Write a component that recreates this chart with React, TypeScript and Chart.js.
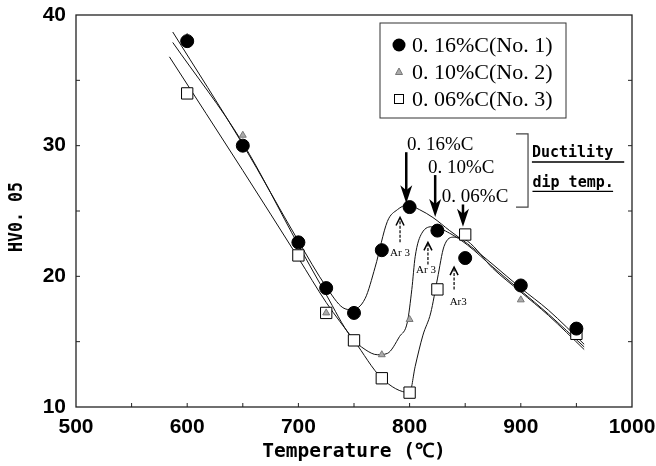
import React, { useEffect, useRef } from "react";
import { Chart, registerables } from "chart.js";
Chart.register(...registerables);

// ---- axis ticks ----
const xTickValues = [500, 600, 700, 800, 900, 1000];
const yTickValues = [10, 20, 30, 40];

// ---- measured points ----
const temps016 = [600, 650, 700, 725, 750, 775, 800, 825, 850, 900, 950];
const hv016 = [38.0, 30.0, 22.6, 19.1, 17.2, 22.0, 25.3, 23.5, 21.4, 19.3, 16.0];
const temps010 = [600, 650, 725, 775, 800, 900];
const hv010 = [38.3, 30.8, 17.2, 14.0, 16.7, 18.2];
const temps006 = [600, 700, 725, 750, 775, 800, 825, 850, 950];
const hv006 = [34.0, 21.6, 17.2, 15.1, 12.2, 11.1, 19.0, 23.2, 15.6];

// ---- fitted curves ----
const fitT016 = [587, 650, 700, 725, 740, 748, 760, 769, 780, 789, 798, 809, 821, 836, 852, 875, 900, 925, 957];
const fitHV016 = [38.7, 30.1, 22.7, 19.2, 17.6, 17.45, 18.3, 20.7, 24.2, 25.1, 25.45, 25.1, 24.5, 23.5, 22.5, 20.9, 19.1, 17.4, 14.8];
const fitT010 = [587, 650, 700, 725, 747, 760, 771, 780, 791, 798, 802, 805, 811, 821, 836, 852, 875, 900, 925, 957];
const fitHV010 = [37.9, 30.2, 22.4, 18.6, 15.4, 14.4, 14.0, 14.1, 15.4, 16.5, 19.0, 21.5, 23.3, 23.8, 23.3, 22.4, 20.7, 18.9, 17.1, 14.6];
const fitT006 = [584, 650, 700, 725, 750, 775, 800, 805, 812, 819, 825, 831, 840, 852, 875, 900, 925, 957];
const fitHV006 = [36.8, 28.1, 21.4, 18.0, 15.1, 12.2, 11.1, 13.1, 15.5, 17.2, 19.8, 22.3, 23.0, 22.7, 20.6, 18.8, 17.0, 14.4];

// ---- legend labels ----
const legendLabels = ["0. 16%C(No. 1)", "0. 10%C(No. 2)", "0. 06%C(No. 3)"];

// ---- ductility dip temperatures (big arrows) ----
const dipLabels = ["0. 16%C", "0. 10%C", "0. 06%C"];
const dipTemps = [797, 823, 848];
const dipArrowTop = [29.5, 27.75, 25.5];
const dipArrowTip = [25.6, 24.55, 23.8];
const dipLabelX = [797.7, 816.5, 829];
const dipLabelY = [30.05, 28.3, 26.1];

// ---- Ar3 arrows ----
const ar3Labels = ["Ar 3", "Ar 3", "Ar3"];
const ar3Temps = [791.4, 816.5, 840];
const ar3Bottom = [22.6, 20.9, 19.0];
const ar3Tip = [24.5, 22.6, 20.7];
const ar3LabelX = [782.4, 805.8, 836];
const ar3LabelY = [21.8, 20.5, 18.0];

const toXY = (xs: number[], ys: number[]) => xs.map((x, i) => ({ x, y: ys[i] }));

const decorPlugin = {
  id: "decor",
  afterDraw(chart: any) {
    const ctx = chart.ctx;
    const xs = chart.scales.x;
    const ys = chart.scales.y;
    const a = chart.chartArea;
    const px = (v: number) => xs.getPixelForValue(v);
    const py = (v: number) => ys.getPixelForValue(v);
    ctx.save();

    // frame
    ctx.strokeStyle = "#222";
    ctx.lineWidth = 1.3;
    ctx.strokeRect(a.left, a.top, a.right - a.left, a.bottom - a.top);
    // inward ticks
    ctx.lineWidth = 1;
    for (let v = 550; v < 1000; v += 50) {
      ctx.beginPath();
      ctx.moveTo(px(v), a.bottom);
      ctx.lineTo(px(v), a.bottom - 4);
      ctx.stroke();
    }
    for (let v = 15; v < 40; v += 5) {
      ctx.beginPath();
      ctx.moveTo(a.left, py(v));
      ctx.lineTo(a.left + 4, py(v));
      ctx.moveTo(a.right, py(v));
      ctx.lineTo(a.right - 4, py(v));
      ctx.stroke();
    }

    // axis titles
    ctx.fillStyle = "#000";
    ctx.font = "bold 19.5px 'DejaVu Sans Mono'";
    ctx.textAlign = "center";
    ctx.textBaseline = "middle";
    ctx.fillText("Temperature (\u2103)", (a.left + a.right) / 2, 452);
    ctx.save();
    ctx.translate(17, 217);
    ctx.rotate(-Math.PI / 2);
    ctx.scale(0.83, 1);
    ctx.font = "bold 20px 'DejaVu Sans Mono'";
    ctx.fillText("HV0. 05", 0, 0);
    ctx.restore();

    // legend
    const lx = 380, ly = 23, lw = 186, lh = 95;
    ctx.fillStyle = "#fff";
    ctx.fillRect(lx, ly, lw, lh);
    ctx.strokeStyle = "#333";
    ctx.lineWidth = 1;
    ctx.strokeRect(lx, ly, lw, lh);
    const rows = [45, 72, 99];
    ctx.font = "22px 'Liberation Serif'";
    ctx.textAlign = "left";
    ctx.textBaseline = "middle";
    rows.forEach((ry, i) => {
      const mx = 399;
      if (i === 0) {
        ctx.fillStyle = "#000";
        ctx.beginPath();
        ctx.arc(mx, ry, 6.5, 0, Math.PI * 2);
        ctx.fill();
      } else if (i === 1) {
        ctx.fillStyle = "#aaa";
        ctx.strokeStyle = "#777";
        ctx.beginPath();
        ctx.moveTo(mx, ry - 4);
        ctx.lineTo(mx + 3.5, ry + 2.5);
        ctx.lineTo(mx - 3.5, ry + 2.5);
        ctx.closePath();
        ctx.fill();
        ctx.stroke();
      } else {
        ctx.strokeStyle = "#000";
        ctx.fillStyle = "#fff";
        ctx.fillRect(mx - 4.5, ry - 4.5, 9, 9);
        ctx.strokeRect(mx - 4.5, ry - 4.5, 9, 9);
      }
      ctx.fillStyle = "#000";
      ctx.fillText(legendLabels[i], 412, ry + 1);
    });

    // big arrows + labels
    ctx.font = "19px 'Liberation Serif'";
    ctx.textBaseline = "middle";
    ctx.textAlign = "left";
    dipTemps.forEach((t, i) => {
      const x = px(t);
      const y1 = py(dipArrowTop[i]);
      const y2 = py(dipArrowTip[i]);
      ctx.strokeStyle = "#000";
      ctx.lineWidth = 2.5;
      ctx.beginPath();
      ctx.moveTo(x, y1);
      ctx.lineTo(x, y2 - 12);
      ctx.stroke();
      ctx.fillStyle = "#000";
      ctx.beginPath();
      ctx.moveTo(x, y2);
      ctx.lineTo(x - 6, y2 - 18);
      ctx.lineTo(x, y2 - 13);
      ctx.lineTo(x + 6, y2 - 18);
      ctx.closePath();
      ctx.fill();
      ctx.fillText(dipLabels[i], px(dipLabelX[i]), py(dipLabelY[i]));
    });

    // bracket
    const bx = px(906.5), bt = py(30.9), bb = py(25.3), bl = px(895.7);
    ctx.strokeStyle = "#444";
    ctx.lineWidth = 1.2;
    ctx.beginPath();
    ctx.moveTo(bl, bt);
    ctx.lineTo(bx, bt);
    ctx.lineTo(bx, bb);
    ctx.lineTo(bl, bb);
    ctx.stroke();

    ctx.font = "bold 15px 'DejaVu Sans Mono'";
    ctx.fillStyle = "#000";
    ctx.fillText("Ductility", px(910), py(29.4));
    ctx.fillText("dip temp.", px(910.5), py(27.15));
    ctx.strokeStyle = "#000";
    ctx.lineWidth = 1.3;
    ctx.beginPath();
    ctx.moveTo(px(910), py(28.75));
    ctx.lineTo(px(993), py(28.75));
    ctx.moveTo(px(910.5), py(26.5));
    ctx.lineTo(px(983), py(26.5));
    ctx.stroke();

    // Ar3 arrows
    ctx.font = "11px 'Liberation Serif'";
    ar3Temps.forEach((t, i) => {
      const x = px(t);
      const yb = py(ar3Bottom[i]);
      const yt = py(ar3Tip[i]);
      ctx.strokeStyle = "#000";
      ctx.lineWidth = 1.2;
      ctx.setLineDash([3, 1.5]);
      ctx.beginPath();
      ctx.moveTo(x, yb);
      ctx.lineTo(x, yt + 2);
      ctx.stroke();
      ctx.setLineDash([]);
      ctx.lineWidth = 1.5;
      ctx.beginPath();
      ctx.moveTo(x - 4, yt + 8);
      ctx.lineTo(x, yt);
      ctx.lineTo(x + 4, yt + 8);
      ctx.stroke();
      ctx.fillStyle = "#000";
      ctx.fillText(ar3Labels[i], px(ar3LabelX[i]), py(ar3LabelY[i]));
    });

    ctx.restore();
  },
};

export default function App() {
  const ref = useRef<HTMLCanvasElement | null>(null);
  useEffect(() => {
    if (!ref.current) return;
    const curve = (xs: number[], ys: number[]) => ({
      data: toXY(xs, ys),
      borderColor: "#111",
      borderWidth: 1,
      pointRadius: 0,
      fill: false,
      cubicInterpolationMode: "monotone" as const,
      order: 2,
    });
    const chart = new Chart(ref.current, {
      type: "line",
      data: {
        datasets: [
          {
            label: "0.16%C",
            data: toXY(temps016, hv016),
            showLine: false,
            pointStyle: "circle",
            pointRadius: 6.5,
            backgroundColor: "#000",
            borderColor: "#000",
            order: 0,
          },
          {
            label: "0.10%C",
            data: toXY(temps010, hv010),
            showLine: false,
            pointStyle: "triangle",
            pointRadius: 4,
            backgroundColor: "#aaa",
            borderColor: "#777",
            borderWidth: 1,
            order: 0,
          },
          {
            label: "0.06%C",
            data: toXY(temps006, hv006),
            showLine: false,
            pointStyle: "rect",
            pointRadius: 8,
            backgroundColor: "#fff",
            borderColor: "#000",
            borderWidth: 1,
            order: 1,
          },
          curve(fitT016, fitHV016),
          curve(fitT010, fitHV010),
          curve(fitT006, fitHV006),
        ],
      },
      options: {
        animation: false,
        responsive: true,
        maintainAspectRatio: false,
        layout: { padding: { top: 15, right: 24, left: 0, bottom: 0 } },
        plugins: { legend: { display: false }, tooltip: { enabled: false } },
        scales: {
          x: {
            type: "linear",
            min: 500,
            max: 1000,
            afterBuildTicks: (s: any) => {
              s.ticks = xTickValues.map((v) => ({ value: v }));
            },
            afterFit: (s: any) => {
              s.height = 59;
              s.paddingLeft = 0;
              s.paddingRight = 0;
            },
            grid: { display: false, drawTicks: false },
            border: { display: false },
            ticks: {
              color: "#000",
              padding: 8,
              maxRotation: 0,
              callback: (v: any) => String(v),
              font: { family: "'Liberation Sans', Arial", size: 21, weight: "bold" },
            },
          },
          y: {
            type: "linear",
            min: 10,
            max: 40,
            afterBuildTicks: (s: any) => {
              s.ticks = yTickValues.map((v) => ({ value: v }));
            },
            afterFit: (s: any) => {
              s.width = 76;
              s.paddingTop = 0;
              s.paddingBottom = 0;
            },
            grid: { display: false, drawTicks: false },
            border: { display: false },
            ticks: {
              color: "#000",
              padding: 10,
              callback: (v: any) => String(v),
              font: { family: "'Liberation Sans', Arial", size: 21, weight: "bold" },
            },
          },
        },
      },
      plugins: [decorPlugin],
    } as any);
    return () => chart.destroy();
  }, []);
  return (
    <div style={{ position: "absolute", left: 0, top: 0, width: 656, height: 466, background: "#fff" }}>
      <canvas ref={ref} />
    </div>
  );
}
